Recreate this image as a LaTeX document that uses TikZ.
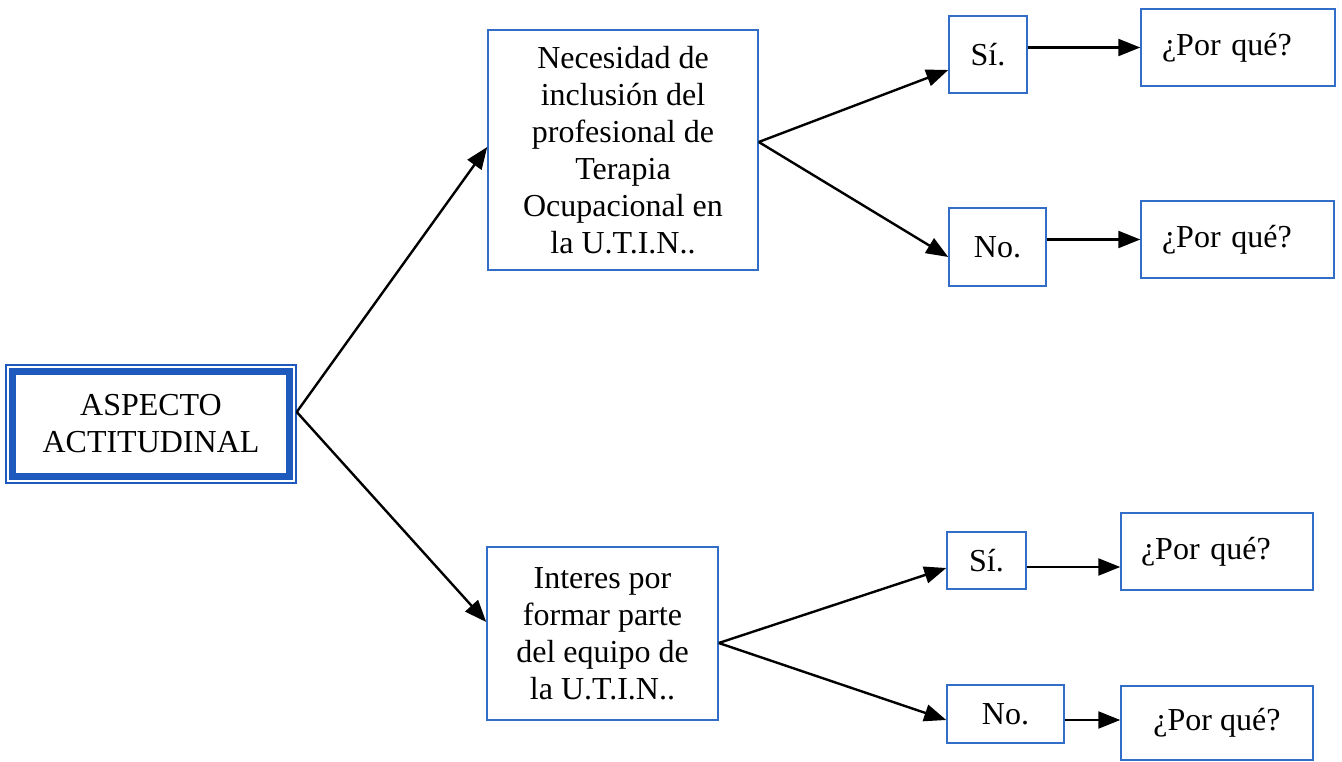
\documentclass[tikz,border=0pt]{standalone}
\usepackage{fontspec}
\setmainfont{Liberation Serif}
\usetikzlibrary{arrows.meta}
\definecolor{boxblue}{RGB}{50,110,200}
\definecolor{deepblue}{RGB}{30,90,190}
\begin{document}
\begin{tikzpicture}[x=1pt,y=-1pt,
  txt/.style={font=\fontsize{32}{37}\selectfont},
  bluebox/.style={txt,draw=boxblue,line width=1.5pt,inner sep=0pt,align=center},
  pqleft/.style={bluebox,align=left,inner xsep=21pt,text width=#1},
  conn/.style={draw=black,line width=2.4pt,-{Triangle[length=22pt,width=17pt]}},
  ]
\useasboundingbox (0,0) rectangle (1342,762);
% main box
\node[txt,draw=deepblue,line width=1.5pt,minimum width=290pt,minimum height=118pt,align=center,inner sep=0pt]
  (main) at (151,424) {ASPECTO\\ACTITUDINAL};
\draw[deepblue,line width=7pt] ([xshift=7.5pt,yshift=-7.5pt]main.north west) rectangle ([xshift=-7.5pt,yshift=7.5pt]main.south east);
% middle boxes
\node[bluebox,minimum width=270pt,minimum height=240pt] (top) at (623,150)
  {Necesidad de\\inclusión del\\profesional de\\Terapia\\Ocupacional en\\la U.T.I.N..};
\node[bluebox,minimum width=231pt,minimum height=173pt] (bot) at (602.5,633.5)
  {Interes por\\formar parte\\del equipo de\\la U.T.I.N..};
% answer boxes
\node[bluebox,minimum width=78pt,minimum height=77pt] (si1) at (988,54.5) {Sí.};
\node[bluebox,minimum width=97pt,minimum height=78pt] (no1) at (997.5,247) {No.};
\node[bluebox,minimum width=79pt,minimum height=57pt] (si2) at (986.5,560.5) {Sí.};
\node[bluebox,minimum width=117pt,minimum height=58pt] (no2) at (1005.5,714) {No.};
% why boxes
\node[pqleft=152pt,minimum height=77pt] (pq1) at (1238,47.5) {¿Por qué?};
\node[pqleft=151pt,minimum height=77pt] (pq2) at (1237.5,239.5) {¿Por qué?};
\node[pqleft=152pt,inner xsep=20pt,minimum height=77pt] (pq3) at (1217,551.5) {¿Por qué?};
\node[bluebox,minimum width=192pt,minimum height=74pt] (pq4) at (1217,723) {¿Por qué?};
% junction points
\coordinate (mj) at ([yshift=12pt]main.east);
\coordinate (tj) at ([yshift=8pt]top.east);
\coordinate (bj) at ([yshift=-9.5pt]bot.east);
\coordinate (s2o) at ([yshift=-6.5pt]si2.east);
\coordinate (n2o) at ([yshift=-6pt]no2.east);
% connectors
\draw[conn] (mj) -- ([yshift=3pt]top.west);
\draw[conn] (mj) -- ([yshift=11.5pt]bot.west);
\draw[conn] (tj) -- ([yshift=-15.5pt]si1.west);
\draw[conn] (tj) -- ([yshift=-10pt]no1.west);
\draw[conn] (bj) -- ([yshift=-7.5pt]si2.west);
\draw[conn] (bj) -- ([yshift=-6pt]no2.west);
\draw[conn] (si1.east |- pq1.west) -- (pq1.west);
\draw[conn] (no1.east |- pq2.west) -- (pq2.west);
\draw[conn] (s2o) -- (s2o -| pq3.west);
\draw[conn] (n2o) -- (n2o -| pq4.west);
\end{tikzpicture}
\end{document}
